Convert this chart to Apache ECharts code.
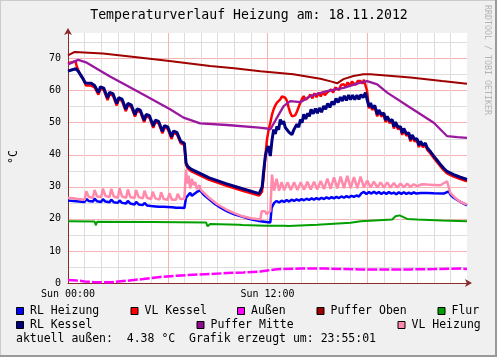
<!DOCTYPE html>
<html><head><meta charset="utf-8">
<script src="https://cdn.jsdelivr.net/npm/echarts@6/dist/echarts.min.js"></script>
<style>html,body{margin:0;padding:0;background:#f0f0f0}#c{width:497px;height:357px}</style>
</head><body><div id="c"></div>
<script>
// time in hours since Sun 00:00, value in °C
const xTickLabels = { 0: 'Sun 00:00', 12: 'Sun 12:00' };

const rlHeizung = [[0,25.7],[0.5,25.5],[1.0,25.3],[1.1,26.2],[1.25,25.6],[1.5,25.4],[1.6,26.3],[1.75,25.5],[2.0,25.3],[2.1,26.2],[2.25,25.4],[2.5,25.2],[2.6,26.0],[2.75,25.2],[3.0,25.0],[3.1,25.8],[3.25,25.0],[3.5,24.8],[3.6,25.6],[3.75,24.8],[4.0,24.5],[4.1,25.3],[4.25,24.5],[4.5,24.3],[4.6,25.0],[4.75,24.2],[5.0,24.0],[5.1,24.6],[5.25,23.9],[5.5,23.8],[5.6,24.4],[5.75,23.8],[6.0,23.7],[6.1,24.2],[6.25,23.6],[6.5,23.5],[6.6,24.0],[6.75,23.5],[7.0,23.4],[7.1,26.6],[7.2,26.0],[7.35,28.1],[7.45,27.2],[7.55,27.6],[7.75,28.4],[7.95,28.9],[8.15,27.6],[8.4,26.5],[8.75,25.0],[9.15,23.6],[9.55,22.4],[10.0,21.4],[10.55,20.6],[11.0,19.9],[11.57,19.25],[12.17,18.9],[12.25,23.5],[12.4,25.0],[12.55,25.6],[12.7,25.1],[12.85,25.7],[13.0,25.3],[13.15,25.9],[13.3,25.4],[13.45,26.0],[13.6,25.6],[13.75,26.1],[13.9,25.7],[14.05,26.2],[14.2,25.8],[14.35,26.3],[14.5,25.9],[14.65,26.4],[14.8,26.0],[14.95,26.5],[15.1,26.1],[15.25,26.6],[15.4,26.2],[15.55,26.7],[15.7,26.3],[15.85,26.8],[16.0,26.4],[16.15,26.9],[16.3,26.5],[16.45,27.0],[16.6,26.6],[16.75,27.1],[16.9,26.7],[17.05,27.2],[17.2,26.9],[17.35,27.3],[17.5,27.0],[17.65,28.0],[17.8,28.4],[17.95,27.8],[18.1,28.4],[18.25,27.9],[18.4,28.5],[18.55,27.9],[18.7,28.4],[18.85,27.8],[19.0,28.3],[19.15,27.8],[19.3,28.4],[19.45,27.9],[19.6,28.2],[19.75,27.7],[19.9,28.3],[20.05,27.8],[20.2,28.3],[20.35,27.8],[20.5,28.2],[20.65,27.8],[20.8,28.3],[20.95,27.9],[21.2,28.1],[21.6,28.1],[22.0,28.0],[22.6,27.9],[22.9,28.6],[23.0,27.6],[23.2,26.6],[23.6,25.3],[24.0,24.2]];

const vlKessel = [[0,68.6],[0.25,68.9],[0.45,69.2],[0.52,67.7],[0.72,65.1],[0.92,63.5],[1.08,61.6],[1.12,62.0],[1.4,61.6],[1.5,62.0],[1.6,61.0],[1.83,58.8],[1.95,60.6],[2.15,60.2],[2.38,57.1],[2.5,58.9],[2.7,58.5],[2.93,55.4],[3.05,57.2],[3.25,56.8],[3.48,53.6],[3.6,55.4],[3.8,55.0],[4.03,51.9],[4.15,53.7],[4.35,53.3],[4.58,50.2],[4.7,52.0],[4.9,51.6],[5.13,48.4],[5.25,50.2],[5.45,49.8],[5.68,46.7],[5.8,48.5],[6.0,48.1],[6.23,45.0],[6.35,46.8],[6.55,46.4],[6.78,43.6],[6.85,44.2],[7.0,43.0],[7.1,36.9],[7.2,35.8],[7.3,36.4],[7.4,34.9],[8.5,32.2],[9.5,30.4],[10.5,28.8],[11.5,27.3],[11.6,27.4],[11.67,28.5],[11.77,33.3],[11.87,39.5],[11.97,44.8],[12.07,47.8],[12.17,50.0],[12.27,52.5],[12.37,54.2],[12.47,55.4],[12.57,56.3],[12.67,56.6],[12.77,57.3],[12.87,58.2],[12.97,58.8],[13.07,57.8],[13.17,56.8],[13.27,54.8],[13.37,53.1],[13.47,52.0],[13.57,51.6],[13.67,52.3],[13.78,53.6],[13.88,55.0],[13.98,56.3],[14.08,57.5],[14.18,58.3],[14.28,57.2],[14.38,56.8],[14.48,58.0],[14.58,58.8],[14.7,57.6],[14.82,59.2],[14.95,58.0],[15.08,59.4],[15.2,58.2],[15.33,59.6],[15.45,58.6],[15.58,59.4],[15.7,59.0],[15.82,60.4],[15.95,59.4],[16.08,61.0],[16.18,60.9],[16.3,60.2],[16.42,61.8],[16.58,62.0],[16.7,61.2],[16.82,62.6],[16.95,61.6],[17.08,62.8],[17.19,62.5],[17.3,61.8],[17.42,63.0],[17.59,63.0],[17.7,62.2],[17.8,63.4],[17.89,63.0],[17.99,59.9],[18.1,54.5],[18.2,55.6],[18.3,54.0],[18.45,54.8],[18.6,52.0],[18.7,53.4],[18.85,52.0],[19.0,52.4],[19.1,50.2],[19.2,51.4],[19.35,49.9],[19.5,50.4],[19.6,48.2],[19.7,49.6],[19.85,48.0],[20.0,48.2],[20.1,46.2],[20.2,47.6],[20.35,46.0],[20.5,46.2],[20.6,44.2],[20.7,45.6],[20.85,44.2],[21.0,44.4],[21.1,42.4],[21.2,43.6],[21.35,42.4],[21.5,43.0],[21.6,41.6],[21.8,40.4],[22.0,39.0],[22.2,37.7],[22.4,36.4],[22.6,35.2],[22.8,34.2],[23.2,33.2],[23.6,32.4],[24.0,31.7]];

const aussen = [[0,0.9],[0.5,0.8],[1.0,0.5],[1.52,0.3],[2.53,0.2],[3.54,0.7],[4.54,1.25],[5.54,1.9],[6.55,2.3],[7.55,2.6],[8.55,2.8],[9.56,3.1],[10.56,3.3],[11.57,3.6],[12.1,4.0],[12.57,4.3],[13.0,4.4],[14.0,4.5],[15.5,4.5],[16.5,4.4],[17.6,4.25],[19.0,4.25],[20.6,4.25],[22.0,4.35],[23.6,4.5],[24.0,4.4]];

const pufferOben = [[0,71.0],[0.4,72.1],[2.1,71.6],[4.0,70.5],[6.1,69.3],[8.55,67.7],[10.0,67.0],[11.57,66.1],[13.55,65.1],[15.18,63.75],[15.8,62.9],[16.19,62.3],[16.57,63.6],[17.17,64.6],[17.77,65.1],[18.19,65.1],[20.6,64.1],[22.5,63.0],[24.0,62.2]];

const flur = [[0,19.25],[1.6,19.2],[1.68,18.0],[1.75,19.1],[5.0,19.0],[8.3,18.9],[8.4,17.7],[8.55,18.4],[10.3,18.2],[10.4,17.8],[10.5,18.1],[11.9,17.9],[12.0,17.5],[12.1,17.9],[13.0,17.9],[13.12,17.4],[13.25,17.8],[15.0,18.2],[17.0,18.8],[17.6,19.25],[19.5,19.8],[19.7,20.8],[19.95,21.1],[20.4,20.0],[21.0,19.8],[22.5,19.5],[24.0,19.3]];

const rlKessel = [[0,66.1],[0.3,66.6],[0.45,66.9],[0.6,66.2],[0.75,65.0],[0.92,63.6],[1.05,62.4],[1.12,62.8],[1.4,62.3],[1.5,62.6],[1.6,61.6],[1.83,59.4],[1.95,61.2],[2.15,60.8],[2.38,57.7],[2.5,59.5],[2.7,59.1],[2.93,56.0],[3.05,57.8],[3.25,57.4],[3.48,54.2],[3.6,56.0],[3.8,55.6],[4.03,52.5],[4.15,54.3],[4.35,53.9],[4.58,50.8],[4.7,52.6],[4.9,52.2],[5.13,49.0],[5.25,50.8],[5.45,50.4],[5.68,47.3],[5.8,49.1],[6.0,48.7],[6.23,45.6],[6.35,47.4],[6.55,47.0],[6.78,44.2],[6.85,44.8],[7.0,43.6],[7.1,37.5],[7.2,36.4],[7.3,37.0],[7.4,35.5],[8.5,32.8],[9.5,31.0],[10.5,29.4],[11.5,27.9],[11.6,28.0],[11.68,30.0],[11.77,35.0],[11.87,39.6],[11.95,41.5],[12.05,42.7],[12.17,39.6],[12.27,44.5],[12.37,47.9],[12.47,46.5],[12.57,48.9],[12.67,47.8],[12.77,51.0],[12.87,49.6],[12.97,50.5],[13.07,48.5],[13.17,48.9],[13.3,47.0],[13.47,46.3],[13.6,48.0],[13.7,47.5],[13.77,49.5],[13.88,48.6],[13.98,51.0],[14.08,50.0],[14.18,52.6],[14.3,51.2],[14.42,53.0],[14.52,52.0],[14.62,54.2],[14.75,52.8],[14.88,54.4],[15.0,53.0],[15.12,54.6],[15.25,53.3],[15.38,55.2],[15.5,54.2],[15.62,56.0],[15.75,54.8],[15.88,56.6],[16.0,55.6],[16.12,57.6],[16.25,56.3],[16.38,58.0],[16.5,56.8],[16.62,58.4],[16.75,57.0],[16.88,58.6],[17.0,57.2],[17.12,58.6],[17.25,57.2],[17.38,58.6],[17.5,57.3],[17.62,58.8],[17.75,57.8],[17.89,59.4],[17.99,57.3],[18.1,55.0],[18.2,56.2],[18.3,54.6],[18.45,55.4],[18.6,52.6],[18.7,54.0],[18.85,52.6],[19.0,53.0],[19.1,50.8],[19.2,52.0],[19.35,50.5],[19.5,51.0],[19.6,48.8],[19.7,50.2],[19.85,48.6],[20.0,48.8],[20.1,46.8],[20.2,48.2],[20.35,46.6],[20.5,46.8],[20.6,44.8],[20.7,46.2],[20.85,44.8],[21.0,45.0],[21.1,43.0],[21.2,44.2],[21.35,43.0],[21.5,43.6],[21.6,42.2],[21.8,41.0],[22.0,39.6],[22.2,38.3],[22.4,37.0],[22.6,35.8],[22.8,34.8],[23.2,33.8],[23.6,33.0],[24.0,32.3]];

const pufferMitte = [[0,68.2],[0.62,69.6],[1.13,68.75],[2.5,64.5],[4.14,59.9],[6.14,54.2],[6.95,51.6],[7.95,49.8],[9.56,49.3],[11.5,48.5],[11.97,48.2],[12.17,47.9],[12.57,51.6],[12.97,55.2],[13.37,56.75],[13.98,56.4],[14.58,58.3],[15.58,59.9],[16.58,60.9],[17.59,62.5],[17.99,63.0],[18.6,62.0],[19.2,59.4],[20.6,54.7],[22.0,50.0],[22.81,45.8],[23.42,45.5],[24.0,45.3]];

const vlHeizung = [[0,26.6],[0.5,26.3],[1.0,26.0],[1.1,28.6],[1.25,26.8],[1.5,26.6],[1.6,29.0],[1.75,27.0],[2.0,26.8],[2.1,29.4],[2.25,27.2],[2.5,26.8],[2.6,29.4],[2.75,27.0],[3.0,26.6],[3.1,29.6],[3.25,27.0],[3.5,26.6],[3.6,29.2],[3.75,26.8],[4.0,26.5],[4.1,29.0],[4.25,26.8],[4.5,26.4],[4.6,28.8],[4.75,26.6],[5.0,26.2],[5.1,28.5],[5.25,26.4],[5.5,26.0],[5.6,28.3],[5.75,26.2],[6.0,26.0],[6.1,28.0],[6.25,26.0],[6.5,26.0],[6.6,27.8],[6.75,26.2],[7.0,26.3],[7.1,35.4],[7.17,31.0],[7.25,33.5],[7.35,29.5],[7.45,32.5],[7.55,30.5],[7.65,31.5],[7.75,29.3],[7.9,30.5],[8.0,29.0],[8.2,28.0],[8.5,26.5],[9.0,24.5],[9.5,23.0],[10.0,21.8],[10.5,20.8],[11.0,20.2],[11.57,19.8],[11.65,22.4],[11.75,21.9],[11.85,22.4],[11.95,21.5],[12.17,22.4],[12.27,33.8],[12.4,28.8],[12.55,32.5],[12.7,28.8],[12.85,31.5],[13.0,28.9],[13.2,31.4],[13.4,29.0],[13.6,31.4],[13.8,29.0],[14.0,31.4],[14.2,29.1],[14.4,31.6],[14.6,29.2],[14.8,31.6],[15.0,29.2],[15.2,31.8],[15.4,29.3],[15.6,32.6],[15.8,29.4],[16.0,33.0],[16.2,29.5],[16.4,33.2],[16.6,29.6],[16.8,33.4],[17.0,29.6],[17.2,33.0],[17.4,29.6],[17.6,33.2],[17.8,29.8],[18.0,32.0],[18.2,29.8],[18.4,31.6],[18.6,29.8],[18.8,31.4],[19.0,29.8],[19.2,31.4],[19.4,29.8],[19.6,31.2],[19.8,29.8],[20.0,31.0],[20.2,29.9],[20.4,31.0],[20.6,30.0],[20.8,30.8],[21.0,30.2],[21.3,30.8],[21.6,30.7],[22.0,30.6],[22.4,30.5],[22.8,31.75],[23.0,28.1],[23.3,26.5],[23.6,25.3],[24.0,24.5]];

const seriesNames = ['RL Heizung','VL Kessel','Außen','Puffer Oben','Flur','RL Kessel','Puffer Mitte','VL Heizung'];
const seriesData = [rlHeizung, vlKessel, aussen, pufferOben, flur, rlKessel, pufferMitte, vlHeizung];
const seriesColors = ['#0000ff','#ff0000','#ff00ff','#a00000','#00a000','#000080','#8e0e8e','#ff8aac'];
const lineColors = ['#0000ff','#ff0000','#ff00ff','#a00000','#00a000','#000080','#9a18a0','#ff8aac'];
const seriesWidths = [2.5, 2.5, 2.5, 2, 2, 3, 2.3, 2.5];

const MONO = '"DejaVu Sans Mono", monospace';
const chart = echarts.init(document.getElementById('c'), null, { renderer: 'canvas' });

const legendPos = [[16,311],[130.5,311],[237,311],[316.5,311],[437.5,311],[16,325],[196.5,325],[397.5,325]];
const legendOrder = [0,1,2,3,4,5,6,7];
const graphics = [
  { type: 'rect', z: -10, shape: { x: 0, y: 0, width: 497, height: 357 }, style: { fill: '#f0f0f0' } },
  { type: 'line', shape: { x1: 0, y1: 0.5, x2: 497, y2: 0.5 }, style: { stroke: '#cbcbcb', lineWidth: 1 } },
  { type: 'line', shape: { x1: 0.5, y1: 0, x2: 0.5, y2: 357 }, style: { stroke: '#cbcbcb', lineWidth: 1 } },
  { type: 'line', shape: { x1: 0, y1: 356, x2: 497, y2: 356 }, style: { stroke: '#999999', lineWidth: 2 } },
  { type: 'line', shape: { x1: 496, y1: 0, x2: 496, y2: 357 }, style: { stroke: '#999999', lineWidth: 2 } },
  { type: 'text', x: 249, y: 16, style: { text: 'Temperaturverlauf Heizung am: 18.11.2012', font: '13.2px ' + MONO, fill: '#000', align: 'center', verticalAlign: 'middle' } },
  { type: 'text', x: 487, y: 5, rotation: -Math.PI / 2, style: { text: 'RRDTOOL / TOBI OETIKER', font: '8.3px ' + MONO, fill: '#b4b4b4', align: 'left', verticalAlign: 'middle' } },
  { type: 'text', x: 14, y: 157, rotation: Math.PI / 2, style: { text: '°C', font: '11.5px ' + MONO, fill: '#000', align: 'center', verticalAlign: 'middle' } },
  { type: 'text', x: 16, y: 339, style: { text: 'aktuell außen:  4.38 °C  Grafik erzeugt um: 23:55:01', font: '11.5px ' + MONO, fill: '#000', align: 'left', verticalAlign: 'middle' } }
];
legendOrder.forEach((i) => {
  const [lx, ly] = legendPos[i];
  graphics.push({ type: 'rect', shape: { x: lx + 0.5, y: ly - 3.5, width: 7, height: 7 }, style: { fill: seriesColors[i], stroke: '#000', lineWidth: 1 } });
  graphics.push({ type: 'text', x: lx + 14, y: ly, style: { text: seriesNames[i], font: '11.5px ' + MONO, fill: '#000', align: 'left', verticalAlign: 'middle' } });
});

const MAJ = '#f5b4b4', MIN = '#dedede', AXC = '#8b2a2a';
chart.setOption({
  animation: false,
  backgroundColor: '#f0f0f0',
  grid: { left: 68, top: 33, width: 399, height: 250, show: true, backgroundColor: '#ffffff', borderWidth: 0 },
  xAxis: {
    type: 'value', min: 0, max: 24, interval: 1,
    axisLine: { show: true, onZero: false, lineStyle: { color: AXC, width: 1 }, symbol: ['none', 'arrow'], symbolSize: [6, 7], symbolOffset: [0, 5] },
    axisTick: { show: false },
    axisLabel: { formatter: (v) => xTickLabels[v] || '', fontFamily: MONO, fontSize: 10, color: '#000', margin: 6, showMinLabel: true },
    splitLine: { show: true, showMaxLine: false, lineStyle: { color: [MAJ, MIN, MIN, MIN, MIN, MIN], width: 1 } }
  },
  yAxis: {
    type: 'value', min: 0, max: 78, interval: 5,
    axisLine: { show: true, lineStyle: { color: AXC, width: 1 }, symbol: ['none', 'arrow'], symbolSize: [6, 7], symbolOffset: [0, 5] },
    axisTick: { show: false },
    axisLabel: { formatter: (v) => (v % 10 === 0 ? String(v) : ''), fontFamily: MONO, fontSize: 10, color: '#000', margin: 7 },
    splitLine: { show: true, showMaxLine: false, lineStyle: { color: [MAJ, MIN], width: 1 } }
  },
  series: seriesData.map((d, i) => ({
    name: seriesNames[i], type: 'line', data: d, showSymbol: false, symbol: 'none', sampling: 'none',
    lineStyle: { color: lineColors[i], width: seriesWidths[i], type: i === 2 ? [10, 2] : 'solid' },
    itemStyle: { color: lineColors[i] }, z: 3 + i * 0.01
  })),
  graphic: graphics
});
</script></body></html>
